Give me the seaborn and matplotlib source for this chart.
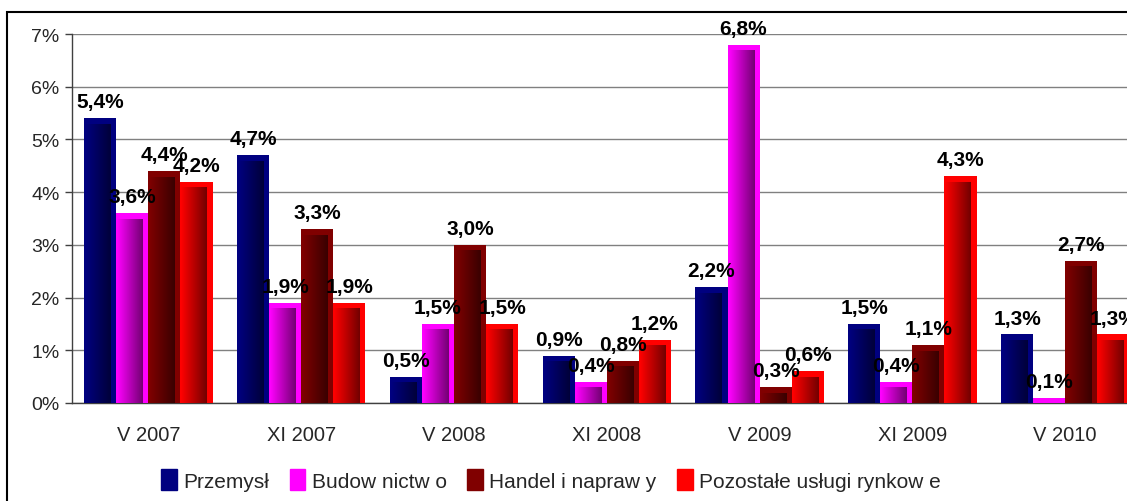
import numpy as np
import pandas as pd
import matplotlib
matplotlib.use("Agg")
import matplotlib.pyplot as plt
import matplotlib.colors as mcolors
from matplotlib.patches import Patch, Rectangle
import seaborn as sns

categories = ["V 2007", "XI 2007", "V 2008", "XI 2008", "V 2009", "XI 2009", "V 2010"]
series_names = ["Przemysł", "Budow nictw o", "Handel i napraw y", "Pozostałe usługi rynkow e"]
przemysl = [5.4, 4.7, 0.5, 0.9, 2.2, 1.5, 1.3]
budownictwo = [3.6, 1.9, 1.5, 0.4, 6.8, 0.4, 0.1]
handel = [4.4, 3.3, 3.0, 0.8, 0.3, 1.1, 2.7]
pozostale = [4.2, 1.9, 1.5, 1.2, 0.6, 4.3, 1.3]
y_ticks = [0, 1, 2, 3, 4, 5, 6, 7]

colors = ["#000080", "#FF00FF", "#800000", "#FF0000"]

rows = []
for name, vals in zip(series_names, [przemysl, budownictwo, handel, pozostale]):
    for c, v in zip(categories, vals):
        rows.append({"cat": c, "series": name, "val": v})
df = pd.DataFrame(rows)

sns.set_theme(style="white")
plt.rcParams["font.family"] = ["Liberation Sans", "DejaVu Sans"]

W, H = 1127, 502
fig = plt.figure(figsize=(W / 100, H / 100), dpi=100)
ax_left, ax_bottom = 72 / W, 1 - 404 / H
ax_w = 7 * 152.8 / W
ax_h = (404 - 35) / H
ax = fig.add_axes([ax_left, ax_bottom, ax_w, ax_h])

sns.barplot(data=df, x="cat", y="val", hue="series", order=categories,
            hue_order=series_names, palette=colors, width=0.84, saturation=1,
            legend=False, ax=ax, zorder=3, edgecolor="none")

# gradient overlay on each bar
px_x = 1 / 152.8
px_y = 7 / (404 - 35)
def darker(c, f):
    r, g, b = mcolors.to_rgb(c)
    return (r * f, g * f, b * f)

for cont, col in zip(ax.containers, colors):
    c0 = np.array(mcolors.to_rgb(col))
    c1 = np.array(darker(col, 0.45))
    grad = np.linspace(0, 1, 64)[:, None]
    arr = (c0[None, :] * (1 - grad) + c1[None, :] * grad)[None, :, :]
    for p in cont.patches:
        x, w, h = p.get_x(), p.get_width(), p.get_height()
        inner_h = h - 6 * px_y
        if inner_h <= 0:
            continue
        ax.imshow(arr, extent=[x + 1 * px_x, x + w - 6 * px_x, 0, inner_h],
                  aspect="auto", interpolation="bilinear", zorder=4)

for cont, vals in zip(ax.containers, [przemysl, budownictwo, handel, pozostale]):
    labels = [f"{v:.1f}%".replace(".", ",") for v in vals]
    ax.bar_label(cont, labels=labels, padding=5, fontsize=15, fontweight="bold",
                 color="black", zorder=6)

ax.set_xlim(-0.5, len(categories) - 0.5)
ax.set_ylim(0, 7)
ax.set_yticks(y_ticks)
ax.set_yticklabels([f"{t}%" for t in y_ticks], fontsize=14)
ax.set_xticks(range(len(categories)))
ax.set_xticklabels(categories, fontsize=14.5)
ax.set_xticks(np.arange(-0.5, len(categories), 1), minor=True)
ax.tick_params(axis="x", which="major", length=0, pad=16)
ax.tick_params(axis="x", which="minor", length=6, width=1, color="#404040", direction="out")
ax.tick_params(axis="y", length=5, width=1, color="#404040", direction="out", left=True, pad=4)
ax.set_xlabel("")
ax.set_ylabel("")
ax.grid(axis="y", color="#808080", lw=1, zorder=0)
ax.set_axisbelow(True)
for s in ["top", "right"]:
    ax.spines[s].set_visible(False)
for s in ["left", "bottom"]:
    ax.spines[s].set_color("#404040")
    ax.spines[s].set_linewidth(1)
ax.set_facecolor("white")

# outer frame
top = 1 - 13 / H
fig.patches.append(Rectangle((7 / W, -0.2), 1.2, top + 0.2,
                             transform=fig.transFigure, fill=False,
                             edgecolor="black", lw=1.5, zorder=0))

handles = [Patch(facecolor=c, edgecolor=c) for c in colors]
fig.legend(handles, series_names, loc="center", bbox_to_anchor=(551 / W, 1 - 481 / H),
           ncol=4, frameon=False, handlelength=0.75, handleheight=1.15,
           handletextpad=0.3, columnspacing=1.0, borderaxespad=0,
           prop={"family": ["Liberation Sans"], "size": 15})

fig.savefig("out.png", dpi=100)
